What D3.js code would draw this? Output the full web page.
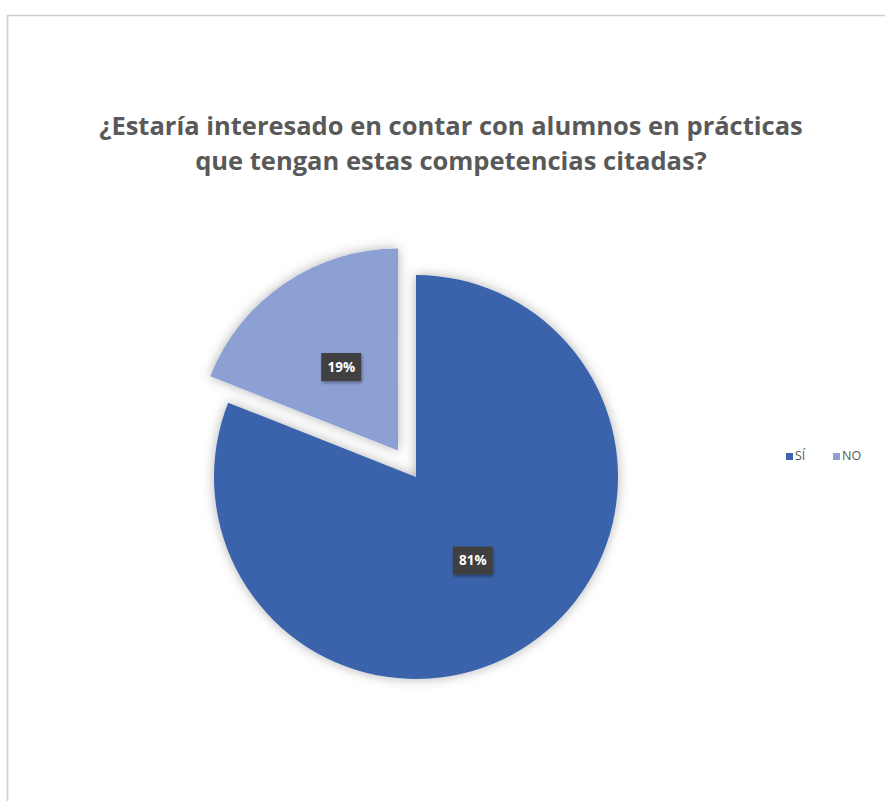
<!DOCTYPE html>
<html>
<head>
<meta charset="utf-8">
<script src="https://cdn.jsdelivr.net/npm/d3@7"></script>
<style>
  body { margin: 0; background: #fff; }
  svg { display: block; font-family: "Open Sans", "Liberation Sans", sans-serif; }
</style>
</head>
<body>
<svg id="chart" width="885" height="801"></svg>
<script>
// Data
var categories = ['SÍ', 'NO'];
var values = [81, 19];
var labels = ['81%', '19%'];
var titleLines = ['¿Estaría interesado en contar con alumnos en prácticas', 'que tengan estas competencias citadas?'];

var COLORS = { 'SÍ': '#3A63AB', 'NO': '#8DA0D4' };

var svg = d3.select('#chart');

// frame (top + left edges visible)
svg.append('path')
    .attr('d', 'M7.5,801 L7.5,15.5 L885,15.5')
    .attr('fill', 'none').attr('stroke', '#cfcfcf').attr('stroke-width', 1.6);

// shadow filters
var defs = svg.append('defs');
var f = defs.append('filter').attr('id', 'shadow')
    .attr('x', '-20%').attr('y', '-20%').attr('width', '140%').attr('height', '140%');
f.append('feDropShadow').attr('dx', 0).attr('dy', 0).attr('stdDeviation', 6)
    .attr('flood-color', '#000').attr('flood-opacity', 0.3);
var f2 = defs.append('filter').attr('id', 'lblshadow')
    .attr('x', '-30%').attr('y', '-30%').attr('width', '160%').attr('height', '160%');
f2.append('feDropShadow').attr('dx', 1).attr('dy', 2).attr('stdDeviation', 1.5)
    .attr('flood-color', '#000').attr('flood-opacity', 0.35);

// title
svg.append('text')
    .attr('x', 451).attr('y', 135)
    .attr('text-anchor', 'middle')
    .attr('font-size', 25.5).attr('font-weight', 'bold').attr('fill', '#595959')
    .selectAll('tspan').data(titleLines).enter().append('tspan')
    .attr('x', 451).attr('dy', (d, i) => i === 0 ? 0 : 35)
    .text(d => d);

// pie
var cx = 416, cy = 477, R = 202, explode = 32;
var pie = d3.pie().sort(null).value(d => d.value);
var arc = d3.arc().innerRadius(0).outerRadius(R);
var data = categories.map((c, i) => ({ cat: c, value: values[i], label: labels[i] }));
var arcs = pie(data);

function offset(d) {
    if (d.data.cat !== 'NO') return [0, 0];
    var a = (d.startAngle + d.endAngle) / 2;
    return [Math.sin(a) * explode, -Math.cos(a) * explode];
}

var g = svg.append('g').attr('transform', `translate(${cx},${cy})`);
var slices = g.selectAll('g.slice').data(arcs).enter().append('g')
    .attr('class', 'slice')
    .attr('transform', d => { var o = offset(d); return `translate(${o[0]},${o[1]})`; });

slices.append('path')
    .attr('d', arc)
    .attr('fill', d => COLORS[d.data.cat])
    .attr('filter', 'url(#shadow)');

// data labels at half radius
var lbl = slices.append('g')
    .attr('transform', d => {
        var a = (d.startAngle + d.endAngle) / 2;
        return `translate(${Math.sin(a) * R * 0.5},${-Math.cos(a) * R * 0.5})`;
    });
lbl.append('rect')
    .attr('x', -20).attr('y', -14).attr('width', 40).attr('height', 28)
    .attr('fill', '#3f3f3f').attr('filter', 'url(#lblshadow)');
lbl.append('text')
    .attr('text-anchor', 'middle').attr('dy', '0.36em')
    .attr('font-size', 13.5).attr('font-weight', 'bold').attr('fill', '#fff')
    .text(d => d.data.label);

// legend
var legend = svg.append('g').attr('transform', 'translate(786,456)');
var items = legend.selectAll('g').data(categories).enter().append('g')
    .attr('transform', (d, i) => `translate(${i * 47},0)`);
items.append('rect').attr('x', 0).attr('y', -3).attr('width', 7).attr('height', 7)
    .attr('fill', d => COLORS[d]);
items.append('text').attr('x', 9).attr('y', 0).attr('dy', '0.35em')
    .attr('font-size', 12.5).attr('fill', '#595959')
    .text(d => d);
</script>
</body>
</html>
